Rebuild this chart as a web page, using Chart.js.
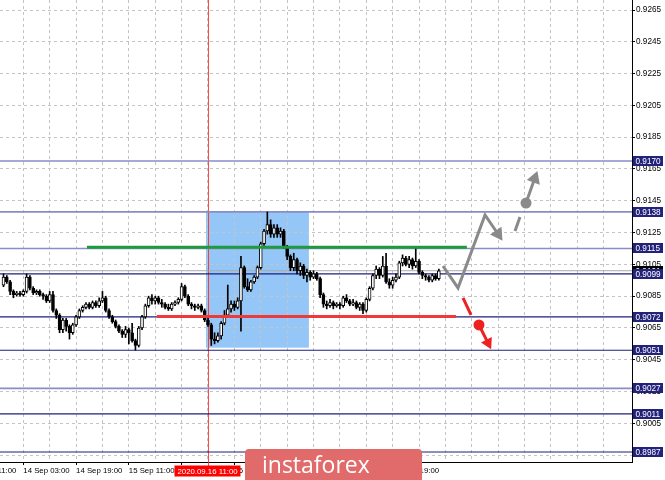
<!DOCTYPE html>
<html><head><meta charset="utf-8">
<script src="https://cdn.jsdelivr.net/npm/chart.js@4.4.1/dist/chart.umd.min.js"></script>
<style>html,body{margin:0;padding:0;background:#fff;}canvas{display:block}</style>
</head><body>
<canvas id="c" width="665" height="480"></canvas>
<script>
// ---- candles (hourly), index = bar number ----
const opens = [0.9092,0.9097,0.9094,0.9088,0.9086,0.9087,0.9086,0.9088,0.9097,0.9090,
0.9087,0.9088,0.9086,0.9085,0.9082,0.9086,0.9076,0.9073,0.9064,0.9070,
0.9066,0.9062,0.9067,0.9072,0.9076,0.9078,0.9080,0.9078,0.9081,0.9079,
0.9082,0.9084,0.9076,0.9072,0.9069,0.9066,0.9063,0.9061,0.9064,0.9062,
0.9057,0.9054,0.9065,0.9072,0.9079,0.9084,0.9082,0.9084,0.9081,0.9080,
0.9078,0.9077,0.9080,0.9081,0.9083,0.9091,0.9085,0.9080,0.9079,0.9078,
0.9079,0.9076,0.9070,0.9067,0.9058,0.9057,0.9060,0.9068,0.9073,0.9077,
0.9080,0.9078,0.9082,0.9103,0.9091,0.9089,0.9094,0.9097,0.9103,0.9118,
0.9126,0.9130,0.9124,0.9128,0.9124,0.9126,0.9116,0.9110,0.9103,0.9108,
0.9101,0.9104,0.9098,0.9100,0.9097,0.9099,0.9096,0.9086,0.9080,0.9079,
0.9081,0.9079,0.9080,0.9079,0.9084,0.9082,0.9080,0.9081,0.9078,0.9080,
0.9076,0.9083,0.9090,0.9098,0.9102,0.9098,0.9104,0.9094,0.9092,0.9095,
0.9097,0.9106,0.9109,0.9105,0.9108,0.9104,0.9107,0.9100,0.9098,0.9097,
0.9095,0.9098,0.9096];
const highs = [0.9099,0.9098,0.9095,0.9089,0.9088,0.9088,0.9089,0.9099,0.9098,0.9091,
0.9089,0.9089,0.9087,0.9086,0.9088,0.9088,0.9077,0.9074,0.9071,0.9071,
0.9067,0.9068,0.9073,0.9077,0.9079,0.9081,0.9081,0.9082,0.9082,0.9084,
0.9088,0.9085,0.9077,0.9073,0.9070,0.9067,0.9064,0.9066,0.9065,0.9068,
0.9058,0.9066,0.9073,0.9080,0.9085,0.9086,0.9085,0.9085,0.9083,0.9081,
0.9080,0.9081,0.9082,0.9084,0.9093,0.9092,0.9086,0.9081,0.9080,0.9080,
0.9080,0.9077,0.9071,0.9068,0.9062,0.9062,0.9069,0.9076,0.9092,0.9082,
0.9082,0.9084,0.9110,0.9104,0.9096,0.9095,0.9098,0.9104,0.9119,0.9127,
0.9138,0.9133,0.9130,0.9130,0.9128,0.9127,0.9117,0.9111,0.9112,0.9109,
0.9106,0.9105,0.9102,0.9101,0.9101,0.9100,0.9097,0.9087,0.9082,0.9083,
0.9082,0.9081,0.9081,0.9085,0.9086,0.9083,0.9083,0.9082,0.9081,0.9081,
0.9084,0.9091,0.9099,0.9104,0.9103,0.9110,0.9112,0.9096,0.9097,0.9099,
0.9107,0.9111,0.9110,0.9110,0.9109,0.9115,0.9108,0.9101,0.9099,0.9098,
0.9099,0.9099,0.9102];
const lows = [0.9091,0.9093,0.9086,0.9084,0.9085,0.9085,0.9085,0.9087,0.9089,0.9086,
0.9086,0.9085,0.9083,0.9081,0.9081,0.9075,0.9071,0.9062,0.9062,0.9063,
0.9058,0.9061,0.9066,0.9071,0.9075,0.9077,0.9077,0.9077,0.9078,0.9078,
0.9081,0.9075,0.9071,0.9068,0.9065,0.9062,0.9059,0.9059,0.9055,0.9056,
0.9051,0.9053,0.9064,0.9071,0.9078,0.9080,0.9080,0.9080,0.9078,0.9077,
0.9076,0.9076,0.9079,0.9080,0.9082,0.9084,0.9079,0.9077,0.9076,0.9077,
0.9075,0.9069,0.9066,0.9054,0.9055,0.9056,0.9058,0.9067,0.9072,0.9075,
0.9076,0.9077,0.9063,0.9090,0.9088,0.9088,0.9093,0.9096,0.9102,0.9117,
0.9124,0.9122,0.9122,0.9122,0.9122,0.9115,0.9108,0.9101,0.9101,0.9099,
0.9098,0.9096,0.9094,0.9095,0.9096,0.9095,0.9084,0.9078,0.9077,0.9078,
0.9077,0.9078,0.9077,0.9078,0.9081,0.9079,0.9079,0.9077,0.9076,0.9074,
0.9075,0.9082,0.9089,0.9096,0.9096,0.9097,0.9093,0.9090,0.9090,0.9094,
0.9096,0.9104,0.9104,0.9103,0.9102,0.9103,0.9099,0.9096,0.9095,0.9094,
0.9094,0.9095,0.9095];
const closes = [0.9097,0.9094,0.9088,0.9086,0.9087,0.9086,0.9088,0.9097,0.9090,0.9087,
0.9088,0.9086,0.9085,0.9082,0.9086,0.9076,0.9073,0.9064,0.9070,0.9066,
0.9062,0.9067,0.9072,0.9076,0.9078,0.9080,0.9078,0.9081,0.9079,0.9082,
0.9084,0.9076,0.9072,0.9069,0.9066,0.9063,0.9061,0.9064,0.9062,0.9057,
0.9054,0.9065,0.9072,0.9079,0.9084,0.9082,0.9084,0.9081,0.9080,0.9078,
0.9077,0.9080,0.9081,0.9083,0.9091,0.9085,0.9080,0.9079,0.9078,0.9079,
0.9076,0.9070,0.9067,0.9058,0.9057,0.9060,0.9068,0.9073,0.9077,0.9080,
0.9078,0.9082,0.9103,0.9091,0.9089,0.9094,0.9097,0.9103,0.9118,0.9126,
0.9130,0.9124,0.9128,0.9124,0.9126,0.9116,0.9110,0.9103,0.9108,0.9101,
0.9104,0.9098,0.9100,0.9097,0.9099,0.9096,0.9086,0.9080,0.9079,0.9081,
0.9079,0.9080,0.9079,0.9084,0.9082,0.9080,0.9081,0.9078,0.9080,0.9076,
0.9083,0.9090,0.9098,0.9102,0.9098,0.9104,0.9094,0.9092,0.9095,0.9097,
0.9106,0.9109,0.9105,0.9108,0.9104,0.9107,0.9100,0.9098,0.9097,0.9095,
0.9098,0.9096,0.9101];

// ---- axes ----
const xRange = [-1.064, 190.57];          // bar-index range shown
const yRange = [0.89807, 0.92713];        // price range shown
const priceTicks = [0.9265,0.9245,0.9225,0.9205,0.9185,0.9165,0.9145,0.9125,0.9105,0.9085,0.9065,0.9045,0.9025,0.9005,0.8985];
const gridBars = [6,14,22,30,38,46,54,62,70,78,86,94,102,110,118,126,134,142,150,158,166,174,182];
const timeLabelBars = [-10,6,22,38,54,70,86,102,118];
const timeLabels = ['13 Sep 11:00','14 Sep 03:00','14 Sep 19:00','15 Sep 11:00','16 Sep 03:00','16 Sep 19:00','17 Sep 11:00','18 Sep 03:00','18 Sep 19:00'];

// ---- levels & annotations ----
const levels = [0.9170,0.9138,0.9115,0.9099,0.9072,0.9051,0.9027,0.9011,0.8987];
const lightLevels = [0.9170,0.9138,0.9115,0.9027];
const bidPrice = 0.9101;
const markerBar = 62; const markerLabel = '2020.09.16 11:00';
const zoneBars = [61.4, 92.6]; const zonePrices = [0.90526, 0.9138];
const greenBars = [25.3, 140.5]; const greenPrice = 0.91158;
const redBars = [46.5, 137.2]; const redPrice = 0.90722;
const grayPathBars = [133.26, 137.81, 146.0, 149.94];
const grayPathPrices = [0.91040, 0.90902, 0.91361, 0.91241];
const grayDashBars = [155.1, 156.6]; const grayDashPrices = [0.91260, 0.91348];
const grayDotBar = 158.43; const grayDotPrice = 0.91436;
const grayArrowBars = [158.43, 161.06]; const grayArrowPrices = [0.91436, 0.91590];
const redDashBars = [139.33, 141.75]; const redDashPrices = [0.90839, 0.90732];
const redDotBar = 144.17; const redDotPrice = 0.90669;
const redArrowBars = [144.17, 146.9]; const redArrowPrices = [0.90669, 0.90556];

Chart.defaults.font.family = "'Liberation Sans', Arial, sans-serif";

const idx = opens.map((_, i) => i);
const pts = (xs, ys) => xs.map((x, k) => ({x, y: ys[k]}));

const datasets = [];
levels.forEach(v => {
  const light = lightLevels.includes(v);
  datasets.push({type:'line', data:[{x:xRange[0], y:v},{x:xRange[1], y:v}],
    borderColor: light ? '#8b8bc8' : '#1f1f7a', borderWidth: light ? 1.6 : 1.2,
    pointRadius:0, order:60});
});
datasets.push({type:'line', data:[{x:xRange[0], y:bidPrice},{x:xRange[1], y:bidPrice}],
  borderColor:'#a8a8a8', borderWidth:1, pointRadius:0, order:61});
datasets.push({type:'bar', data: idx.map(i => ({x:i, y:[lows[i], highs[i]]})),
  backgroundColor:'#000', barThickness:1, grouped:false, order:40});
datasets.push({type:'bar', data: idx.map(i => ({x:i, y:[opens[i], closes[i]]})),
  backgroundColor: idx.map(i => closes[i] >= opens[i] ? '#ffffff' : '#000000'),
  borderColor:'#000', borderWidth:1, borderSkipped:false, barThickness:3, grouped:false, minBarLength:1, order:30});
datasets.push({type:'line', data: pts(greenBars, [greenPrice, greenPrice]), borderColor:'#1f9a3e', borderWidth:3, pointRadius:0, order:20});
datasets.push({type:'line', data: pts(redBars, [redPrice, redPrice]), borderColor:'#f03a3a', borderWidth:3, pointRadius:0, order:20});
// gray forecast
const gray = '#8a8a8a', red = '#ee2020';
datasets.push({type:'line', data: pts(grayPathBars, grayPathPrices), borderColor:gray, borderWidth:3, pointRadius:0, borderJoinStyle:'miter', order:10});
datasets.push({type:'line', data: [{x:grayPathBars[3], y:grayPathPrices[3]}], pointStyle:'triangle', pointRadius:8, pointRotation:146, pointBackgroundColor:gray, pointBorderWidth:0, showLine:false, order:10});
datasets.push({type:'line', data: pts(grayDashBars, grayDashPrices), borderColor:gray, borderWidth:3, pointRadius:0, order:10});
datasets.push({type:'line', data: [{x:grayDotBar, y:grayDotPrice}], pointStyle:'circle', pointRadius:5.5, pointBackgroundColor:gray, pointBorderWidth:0, showLine:false, order:10});
datasets.push({type:'line', data: pts(grayArrowBars, grayArrowPrices), borderColor:gray, borderWidth:3, pointRadius:0, order:10});
datasets.push({type:'line', data: [{x:grayArrowBars[1], y:grayArrowPrices[1]}], pointStyle:'triangle', pointRadius:8, pointRotation:20, pointBackgroundColor:gray, pointBorderWidth:0, showLine:false, order:10});
// red forecast
datasets.push({type:'line', data: pts(redDashBars, redDashPrices), borderColor:red, borderWidth:3, pointRadius:0, order:10});
datasets.push({type:'line', data: [{x:redDotBar, y:redDotPrice}], pointStyle:'circle', pointRadius:5.5, pointBackgroundColor:red, pointBorderWidth:0, showLine:false, order:10});
datasets.push({type:'line', data: pts(redArrowBars, redArrowPrices), borderColor:red, borderWidth:3, pointRadius:0, order:10});
datasets.push({type:'line', data: [{x:redArrowBars[1], y:redArrowPrices[1]}], pointStyle:'triangle', pointRadius:7, pointRotation:153, pointBackgroundColor:red, pointBorderWidth:0, showLine:false, order:10});

const xTickValues = [timeLabelBars[0]].concat(gridBars);

const overlay = {
  id:'overlay',
  beforeDraw(chart){
    const {ctx, scales:{x, y}} = chart;
    const x1 = x.getPixelForValue(zoneBars[0]), x2 = x.getPixelForValue(zoneBars[1]);
    const y1 = y.getPixelForValue(zonePrices[1]), y2 = y.getPixelForValue(zonePrices[0]);
    ctx.save(); ctx.fillStyle = '#94c7f7'; ctx.fillRect(x1, y1, x2 - x1, y2 - y1); ctx.restore();
  },
  beforeDatasetsDraw(chart){
    const {ctx, chartArea:a, scales:{x}} = chart;
    const px = Math.round(x.getPixelForValue(markerBar)) + 0.5;
    ctx.save(); ctx.strokeStyle = 'rgba(255,40,40,0.85)'; ctx.lineWidth = 1;
    ctx.beginPath(); ctx.moveTo(px, a.top); ctx.lineTo(px, a.bottom + 4); ctx.stroke(); ctx.restore();
  },
  afterDraw(chart){
    const {ctx, chartArea:a, scales:{x, y}} = chart;
    ctx.save();
    ctx.font = "8.2px 'Liberation Sans', Arial, sans-serif";
    ctx.textBaseline = 'middle'; ctx.textAlign = 'left';
    const box = (v, bg) => {
      const py = y.getPixelForValue(v);
      ctx.fillStyle = bg; ctx.fillRect(a.right + 1, Math.round(py) - 5, 30, 10);
      ctx.fillStyle = '#fff'; ctx.fillText(v.toFixed(4), a.right + 3.5, Math.round(py) + 0.5);
    };
    box(bidPrice, '#000');
    levels.forEach(v => box(v, '#22227a'));
    // marker time label
    const mx = x.getPixelForValue(markerBar);
    ctx.font = "7.8px 'Liberation Sans', Arial, sans-serif";
    ctx.fillStyle = '#ff0000'; ctx.fillRect(mx - 33.5, a.bottom + 3.5, 66, 11);
    ctx.fillStyle = '#fff'; ctx.fillText(markerLabel, mx - 30.5, a.bottom + 9.5);
    // banner
    ctx.fillStyle = '#e16a6a';
    ctx.beginPath();
    if (ctx.roundRect) ctx.roundRect(245, 449, 177, 40, 4); else ctx.rect(245, 449, 177, 40);
    ctx.fill();
    ctx.fillStyle = '#fff'; ctx.font = "23px 'Open Sans', sans-serif";
    ctx.textBaseline = 'alphabetic';
    ctx.fillText('instaforex', 262, 473);
    ctx.restore();
  }
};

new Chart(document.getElementById('c'), {
  type:'bar',
  data:{ datasets },
  plugins:[overlay],
  options:{
    responsive:false, animation:false, devicePixelRatio:1,
    layout:{ padding:0, autoPadding:false },
    plugins:{ legend:{display:false}, tooltip:{enabled:false} },
    scales:{
      x:{ type:'linear', position:'bottom', min:xRange[0], max:xRange[1], offset:false,
        afterBuildTicks: s => { s.ticks = xTickValues.map(v => ({value:v})); },
        afterFit: s => { s.height = 18; s.paddingLeft = 0; s.paddingRight = 0; },
        ticks:{ autoSkip:false, maxRotation:0, minRotation:0, align:'start', padding:1, color:'#000',
          font:{size:7.8},
          callback: v => { const k = timeLabelBars.indexOf(v); return k >= 0 ? timeLabels[k] : ''; } },
        grid:{ offset:false, color: c => (c.tick && c.tick.value >= xRange[0]) ? '#c4c4c4' : 'rgba(0,0,0,0)',
          lineWidth:1, tickLength:3,
          tickColor: c => (c.tick && timeLabelBars.includes(c.tick.value)) ? '#000' : 'rgba(0,0,0,0)' },
        border:{ display:true, color:'#000', width:1, dash:[3,3] }
      },
      y:{ type:'linear', position:'right', min:yRange[0], max:yRange[1],
        afterBuildTicks: s => { s.ticks = priceTicks.map(v => ({value:v})); },
        afterFit: s => { s.width = 33; s.paddingTop = 0; s.paddingBottom = 0; },
        ticks:{ autoSkip:false, padding:1, color:'#000', font:{size:8.2}, callback: v => v.toFixed(4) },
        grid:{ color:'#c4c4c4', lineWidth:1, tickLength:3, tickColor:'#000' },
        border:{ display:true, color:'#000', width:1, dash:[3,3] }
      }
    }
  }
});
</script>
</body></html>
